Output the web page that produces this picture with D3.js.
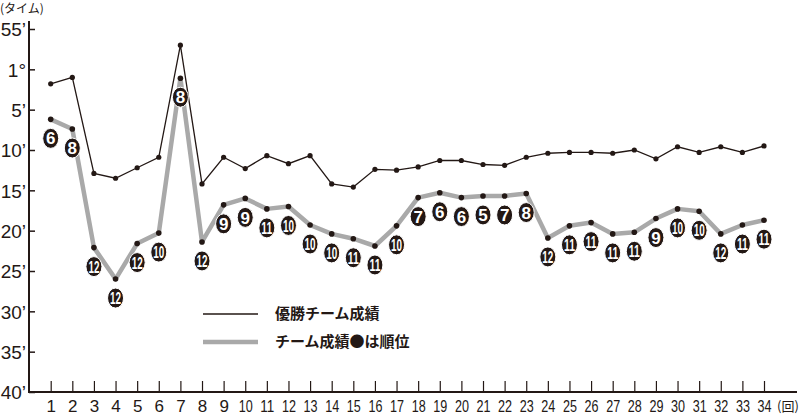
<!DOCTYPE html>
<html><head><meta charset="utf-8">
<script src="https://cdn.jsdelivr.net/npm/d3@7/dist/d3.min.js"></script>
<style>body{margin:0;background:#fff}svg{display:block}</style>
</head><body><svg id="c" width="800" height="417"></svg>
<script>
const rounds = [1,2,3,4,5,6,7,8,9,10,11,12,13,14,15,16,17,18,19,20,21,22,23,24,25,26,27,28,29,30,31,32,33,34];
const winnerTimes = [61.8,61.0,72.9,73.5,72.2,70.9,57.0,74.2,70.9,72.3,70.7,71.7,70.7,74.2,74.6,72.4,72.5,72.1,71.3,71.3,71.8,71.9,70.9,70.4,70.3,70.3,70.4,70.0,71.1,69.6,70.3,69.6,70.3,69.5];
const teamTimes = [66.2,67.4,82.1,86.0,81.6,80.3,61.1,81.4,76.8,76.0,77.3,77.0,79.3,80.4,81.0,81.9,79.4,75.9,75.3,75.9,75.7,75.7,75.4,80.9,79.4,79.0,80.4,80.2,78.5,77.3,77.6,80.4,79.3,78.7];
const teamRanks = [6,8,12,12,12,10,8,12,9,9,11,10,10,10,11,11,10,7,6,6,5,7,8,12,11,11,11,11,9,10,10,12,11,11];
const yTickValues = [55,60,65,70,75,80,85,90,95,100];
const yTickLabels = ["55\u2019","1\u00b0","5\u2019","10\u2019","15\u2019","20\u2019","25\u2019","30\u2019","35\u2019","40\u2019"];
const legendLabels = ["優勝チーム成績","チーム成績●は順位"];

const ink = "#231815";
const numFont = "'Liberation Sans Narrow','Liberation Sans',Arial,sans-serif";
const jpFont = "'Noto Sans CJK JP','Noto Sans CJK SC',sans-serif";
const svg = d3.select("#c");
const x = d3.scalePoint().domain(rounds).range([50.7, 764]);
const y = d3.scaleLinear().domain([55, 100]).range([29, 392]);
const axisX = 29, axisY = 392;

// y axis
const yAxis = d3.axisLeft(y).tickValues(yTickValues)
  .tickFormat((d, i) => yTickLabels[i]).tickSizeInner(-6).tickSizeOuter(0).tickPadding(3);
const gy = svg.append("g").attr("transform", `translate(${axisX},0)`).call(yAxis);
gy.select(".domain").remove();
gy.selectAll(".tick line").attr("stroke", ink).attr("stroke-width", 1.5);
gy.selectAll(".tick text").attr("fill", ink).attr("font-family", numFont)
  .attr("font-size", 19).attr("dy", "0.36em");

// x axis
const xAxis = d3.axisBottom(x).tickSizeInner(-11).tickSizeOuter(0).tickPadding(20);
const gx = svg.append("g").attr("transform", `translate(0,${axisY})`).call(xAxis);
gx.select(".domain").remove();
gx.selectAll(".tick line").attr("stroke", ink).attr("stroke-width", 1.2);
gx.selectAll(".tick text").attr("fill", ink).attr("font-family", numFont)
  .attr("font-size", 17).attr("dy", "0")
  .each(function(d){ if (d >= 10) d3.select(this).attr("textLength", 14).attr("lengthAdjust","spacingAndGlyphs"); });

svg.append("line").attr("x1", axisX).attr("x2", axisX).attr("y1", 21).attr("y2", axisY + 1)
  .attr("stroke", ink).attr("stroke-width", 2);
svg.append("line").attr("x1", axisX - 1).attr("x2", 797).attr("y1", axisY).attr("y2", axisY)
  .attr("stroke", ink).attr("stroke-width", 2);

svg.append("text").attr("x", 0).attr("y", 13).attr("font-family", jpFont).attr("font-size", 12)
  .attr("fill", ink).text("(タイム)");
svg.append("text").attr("x", 777).attr("y", 411).attr("font-family", jpFont).attr("font-size", 13)
  .attr("fill", ink).text("(回)");

// team line
const line = d3.line().x((d, i) => x(rounds[i])).y(d => y(d));
svg.append("path").datum(teamTimes).attr("d", line).attr("fill", "none")
  .attr("stroke", "#a9a9a9").attr("stroke-width", 4.5).attr("stroke-linejoin", "round");
svg.append("g").selectAll("circle").data(teamTimes).join("circle")
  .attr("cx", (d, i) => x(rounds[i])).attr("cy", d => y(d)).attr("r", 2.8).attr("fill", ink);

// winner line
svg.append("path").datum(winnerTimes).attr("d", line).attr("fill", "none")
  .attr("stroke", ink).attr("stroke-width", 1.3);
svg.append("g").selectAll("circle").data(winnerTimes).join("circle")
  .attr("cx", (d, i) => x(rounds[i])).attr("cy", d => y(d)).attr("r", 2.6).attr("fill", ink);

// rank badges
const badges = svg.append("g").selectAll("g").data(teamRanks).join("g")
  .attr("transform", (d, i) => `translate(${x(rounds[i])},${y(teamTimes[i]) + 19})`);
badges.append("ellipse").attr("rx", 8).attr("ry", 10).attr("fill", ink)
  .attr("stroke", "#fff").attr("stroke-width", 1);
badges.append("text").attr("text-anchor", "middle").attr("dy", "0.36em")
  .attr("font-family", numFont).attr("font-weight", "bold").attr("font-size", 17)
  .attr("fill", "#fff").text(d => d)
  .each(function(d){ if (d >= 10) d3.select(this).attr("textLength", 11).attr("lengthAdjust","spacingAndGlyphs"); });

// legend
const lg = svg.append("g");
const legendStyles = [{c: ink, w: 1.3}, {c: "#a9a9a9", w: 4.5}];
legendLabels.forEach((t, i) => {
  const ly = 314 + i * 28;
  lg.append("line").attr("x1", 203).attr("x2", 258).attr("y1", ly).attr("y2", ly)
    .attr("stroke", legendStyles[i].c).attr("stroke-width", legendStyles[i].w);
  lg.append("text").attr("x", 275).attr("y", ly).attr("dy", "0.36em")
    .attr("font-family", jpFont).attr("font-weight", "bold").attr("font-size", 15)
    .attr("fill", ink).text(t);
});
</script></body></html>
